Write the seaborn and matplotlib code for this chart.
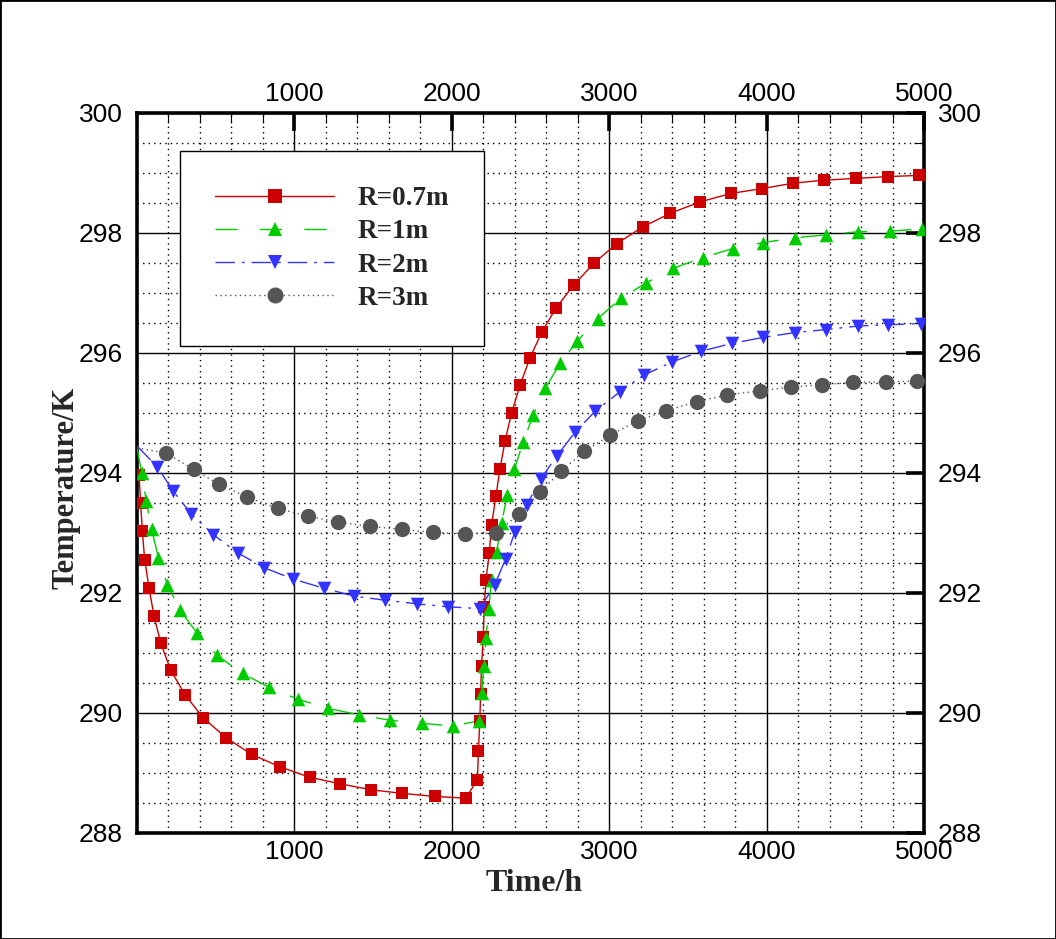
import matplotlib
matplotlib.use("Agg")
import matplotlib.pyplot as plt
from matplotlib.lines import Line2D
from matplotlib.patches import Rectangle
from matplotlib.ticker import MultipleLocator
import seaborn as sns

# marker positions (time in h, temperature in K)
t_07 = [13, 23, 34, 49, 76, 108, 151, 215, 306, 420, 565, 728, 911, 1096, 1291, 1488,
        1686, 1892, 2089, 2163, 2169, 2178, 2183, 2189, 2200, 2206, 2217, 2238, 2253,
        2280, 2306, 2338, 2380, 2433, 2497, 2572, 2662, 2774, 2904, 3047, 3212, 3389,
        3580, 3774, 3972, 4168, 4362, 4567, 4770, 4967]
T_07 = [293.97, 293.50, 293.03, 292.55, 292.09, 291.62, 291.16, 290.71, 290.30, 289.92,
        289.59, 289.31, 289.10, 288.93, 288.82, 288.72, 288.66, 288.61, 288.58, 288.89,
        289.36, 289.86, 290.32, 290.79, 291.27, 291.76, 292.21, 292.67, 293.14, 293.61,
        294.07, 294.53, 295.00, 295.46, 295.92, 296.35, 296.75, 297.13, 297.50, 297.82,
        298.10, 298.33, 298.52, 298.66, 298.74, 298.83, 298.88, 298.91, 298.94, 298.96]

t_1 = [30, 59, 93, 136, 193, 274, 382, 508, 671, 837, 1021, 1212, 1408, 1607, 1809, 2005,
       2172, 2189, 2204, 2217, 2234, 2253, 2285, 2316, 2352, 2397, 2454, 2518, 2594, 2688,
       2798, 2926, 3074, 3236, 3406, 3594, 3785, 3978, 4178, 4380, 4580, 4783, 4987]
T_1 = [294.00, 293.53, 293.06, 292.59, 292.14, 291.71, 291.33, 290.96, 290.66, 290.43,
       290.23, 290.08, 289.97, 289.88, 289.83, 289.78, 289.87, 290.33, 290.78, 291.25,
       291.74, 292.21, 292.69, 293.16, 293.63, 294.06, 294.52, 294.97, 295.41, 295.83,
       296.20, 296.57, 296.91, 297.17, 297.41, 297.59, 297.74, 297.84, 297.92, 297.97,
       298.02, 298.03, 298.07]

t_2 = [130, 229, 344, 486, 639, 809, 994, 1187, 1376, 1575, 1779, 1977, 2178, 2274, 2342,
       2401, 2476, 2565, 2666, 2783, 2911, 3066, 3219, 3399, 3584, 3781, 3978, 4178, 4376,
       4582, 4773, 4981]
T_2 = [294.10, 293.70, 293.32, 292.97, 292.67, 292.42, 292.23, 292.08, 291.95, 291.88,
       291.82, 291.77, 291.74, 292.14, 292.57, 293.02, 293.47, 293.90, 294.28, 294.68,
       295.03, 295.35, 295.63, 295.85, 296.03, 296.16, 296.26, 296.34, 296.39, 296.45,
       296.47, 296.49]

t_3 = [187, 359, 522, 699, 894, 1085, 1280, 1478, 1683, 1881, 2083, 2280, 2429, 2561, 2694,
       2841, 3006, 3180, 3363, 3558, 3749, 3955, 4153, 4350, 4552, 4758, 4955]
T_3 = [294.33, 294.06, 293.81, 293.60, 293.41, 293.28, 293.18, 293.11, 293.06, 293.01,
       292.99, 293.00, 293.32, 293.68, 294.03, 294.36, 294.63, 294.87, 295.04, 295.19,
       295.30, 295.37, 295.43, 295.47, 295.51, 295.52, 295.53]

# value at t=0 where the curves (except R=0.7m) start, without a marker
t_start = 0
T_start = [None, 294.42, 294.45, 294.42]

labels = ["R=0.7m", "R=1m", "R=2m", "R=3m"]
colors = ["#cc0000", "#00cc00", "#3333ff", "#555555"]
markers = ["s", "^", "v", "o"]
msizes = [9.0, 9.8, 9.8, 11.0]
dashes = ["-", (0, (16, 16)), (0, (14, 5, 2, 5)), (0, (1, 2.5))]

x_ticks = [1000, 2000, 3000, 4000, 5000]
y_ticks = [288, 290, 292, 294, 296, 298, 300]

sns.set_style("white")
plt.rcParams["font.family"] = ["Liberation Sans", "DejaVu Sans"]

fig = plt.figure(figsize=(10.56, 9.39), dpi=100)
ax = fig.add_axes([137 / 1056, 1 - 833 / 939, (924 - 137) / 1056, (833 - 113) / 939])

series = [(t_07, T_07), (t_1, T_1), (t_2, T_2), (t_3, T_3)]
handles = []
for i, (tt, TT) in enumerate(series):
    lx, ly = list(tt), list(TT)
    if T_start[i] is not None:
        lx = [t_start] + lx
        ly = [T_start[i]] + ly
    sns.lineplot(x=lx, y=ly, ax=ax, color=colors[i], linestyle=dashes[i],
                 linewidth=1.0, sort=False, estimator=None, zorder=3)
    sns.scatterplot(x=tt, y=TT, ax=ax, color=colors[i], marker=markers[i],
                    s=msizes[i] ** 2, linewidth=0, zorder=4)
    handles.append(Line2D([], [], color=colors[i], linestyle=dashes[i], linewidth=1.0,
                          marker=markers[i], markersize=msizes[i] * 1.05,
                          markeredgewidth=0, label=labels[i]))

ax.set_xlim(0, 5000)
ax.set_ylim(288, 300)
ax.set_xticks(x_ticks)
ax.set_yticks(y_ticks)
ax.set_xticklabels([str(v) for v in x_ticks])
ax.set_yticklabels([str(v) for v in y_ticks])
ax.xaxis.set_minor_locator(MultipleLocator(200))
ax.yaxis.set_minor_locator(MultipleLocator(0.5))

ax.set_axisbelow(True)
ax.grid(which="major", color="black", linewidth=1.0, linestyle="-")
ax.grid(which="minor", color="black", linewidth=1.0, linestyle=(0, (1, 3)))

for sp in ax.spines.values():
    sp.set_linewidth(2.6)
    sp.set_color("black")
    sp.set_visible(True)

ax.tick_params(which="major", direction="in", length=13, width=2.6, colors="black",
               top=True, right=True, labeltop=True, labelright=True, labelsize=19)
ax.tick_params(which="minor", direction="in", length=7, width=0.8, colors="black",
               top=True, right=True)
ax.tick_params(axis="y", which="major", pad=10)
ax.tick_params(axis="x", which="major", pad=5)

ax.set_xlabel("Time/h", fontsize=23, fontweight="bold", family="Liberation Serif")
ax.set_ylabel("Temperature/K", fontsize=22, fontweight="bold", family="Liberation Serif")
ax.xaxis.set_label_coords(0.504, -0.05)
ax.yaxis.set_label_coords(-0.072, 0.479)

leg = ax.legend(handles=handles, loc="upper left", bbox_to_anchor=(0.0546, 0.947),
                borderaxespad=0, frameon=True, fancybox=False, framealpha=1,
                edgecolor="black", handlelength=4.4, handletextpad=0.85,
                labelspacing=0.3, borderpad=1.3,
                prop={"family": "Liberation Serif", "weight": "bold", "size": 19.5})
leg.get_frame().set_linewidth(1.0)
leg.set_zorder(10)

fig.patches.append(Rectangle((0, 0), 1, 1, transform=fig.transFigure, fill=False,
                             edgecolor="black", linewidth=2))

fig.savefig("out.png", dpi=100)
